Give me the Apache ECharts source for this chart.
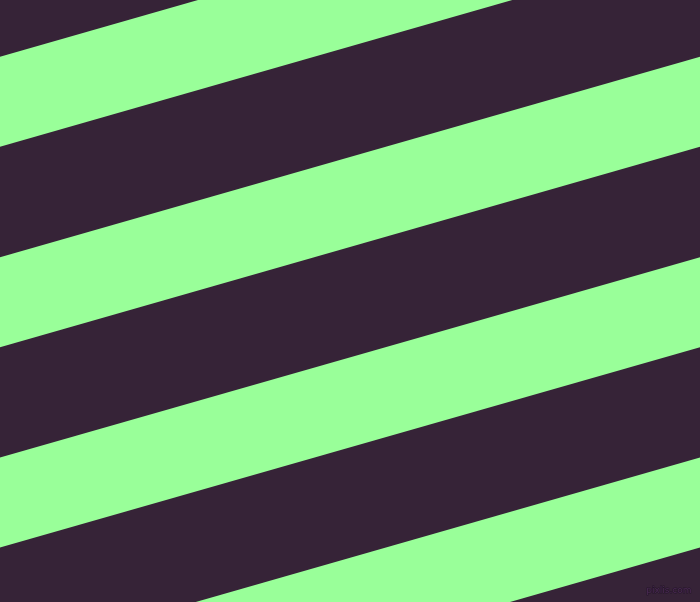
<!DOCTYPE html>
<html>
<head>
<meta charset="utf-8">
<script src="https://cdn.jsdelivr.net/npm/echarts@6/dist/echarts.min.js"></script>
<style>
html,body{margin:0;padding:0;background:#362337;}
#chart{width:700px;height:602px;}
</style>
</head>
<body>
<div id="chart"></div>
<script>
// Stripe data: y of each green stripe's upper edge at the left (x=0) and right (x=700) border
var stripeTopLeft  = [56.7, 257.15, 457.6, 658.05];
var stripeTopRight = [-143.75, 56.7, 257.15, 457.6];
var stripeThickness = [90, 90, 90, 90];
var xExtent = [0, 700];
var yExtent = [0, 602];
var watermark = 'pixlis.com';

var darkColor = '#362337';
var greenColor = '#99ff99';

var stripeData = stripeTopLeft.map(function (v, i) {
  return [v, stripeTopRight[i], stripeThickness[i]];
});

var chart = echarts.init(document.getElementById('chart'), null, {renderer: 'canvas'});
chart.setOption({
  backgroundColor: darkColor,
  animation: false,
  grid: {left: 0, right: 0, top: 0, bottom: 0},
  xAxis: {type: 'value', min: xExtent[0], max: xExtent[1], show: false},
  yAxis: {type: 'value', min: yExtent[0], max: yExtent[1], inverse: true, show: false},
  series: [{
    type: 'custom',
    clip: true,
    data: stripeData,
    renderItem: function (params, api) {
      var lt = api.value(0), rt = api.value(1), th = api.value(2);
      var pts = [
        api.coord([xExtent[0], lt]),
        api.coord([xExtent[1], rt]),
        api.coord([xExtent[1], rt + th]),
        api.coord([xExtent[0], lt + th])
      ];
      return {
        type: 'polygon',
        shape: {points: pts},
        style: {fill: greenColor, stroke: null}
      };
    }
  }],
  graphic: [{
    type: 'text',
    right: 8,
    bottom: 6,
    style: {
      text: watermark,
      fill: '#4a2a52',
      stroke: '#24152a',
      lineWidth: 1,
      font: '9px "DejaVu Sans", sans-serif'
    }
  }]
});
</script>
</body>
</html>
